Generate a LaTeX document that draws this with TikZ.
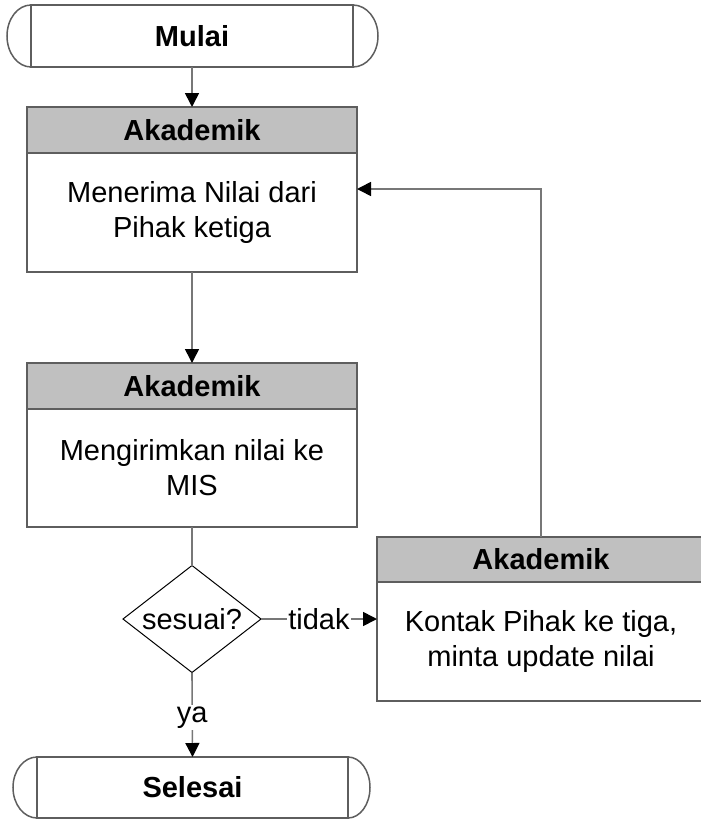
\documentclass[tikz,border=0pt]{standalone}
\usepackage{fontspec}
\setmainfont{Liberation Sans}
\usetikzlibrary{arrows.meta,shapes.geometric,calc}
\definecolor{hdr}{HTML}{C0C0C0}
\definecolor{bord}{HTML}{5E5E5E}
\definecolor{conncol}{HTML}{777777}
\begin{document}
\begin{tikzpicture}[x=1pt,y=-1pt,
  every node/.style={font=\fontsize{29}{35}\selectfont, inner sep=0pt, outer sep=0pt},
  head/.style={draw=bord, line width=1.5pt, fill=hdr, minimum width=330pt, minimum height=46pt, font=\fontsize{29}{35}\selectfont\bfseries},
  body/.style={draw=bord, line width=1.5pt, fill=white, minimum width=330pt, minimum height=119pt, align=center},
  conn/.style={draw=conncol, line width=1.6pt},
  arr/.style={conn, -{Triangle[length=14pt,width=14pt,color=black]}},
  lbl/.style={fill=white, inner sep=1.5pt},
  term/.style={draw=bord, line width=1.5pt, font=\fontsize{29}{35}\selectfont\bfseries}
]
\useasboundingbox (0,0) rectangle (701,819);
\clip (0,0) rectangle (701,819);

% start terminator
\node[term, minimum width=322pt, minimum height=62pt] (mulai) at (192,36) {Mulai};
\draw[term] (mulai.north west) arc[start angle=90, end angle=270, x radius=24pt, y radius=31pt];
\draw[term] (mulai.north east) arc[start angle=90, end angle=-90, x radius=25pt, y radius=31pt];

% box 1
\node[head] (h1) at (192,130) {Akademik};
\node[body, anchor=north] (b1) at (h1.south) {Menerima Nilai dari\\Pihak ketiga};

% box 2
\node[head] (h2) at (192,386) {Akademik};
\node[body, minimum height=118pt, anchor=north] (b2) at (h2.south) {Mengirimkan nilai ke\\MIS};

% box 3
\node[head, minimum width=328pt, minimum height=45pt] (h3) at (541,559.5) {Akademik};
\node[body, minimum width=328pt, anchor=north] (b3) at (h3.south) {Kontak Pihak ke tiga,\\minta update nilai};

% decision
\node[diamond, draw=black, line width=1pt, aspect=1.29, minimum width=138pt, minimum height=107pt] (dia) at (192,619) {sesuai?};

% end terminator
\node[term, minimum width=311pt, minimum height=61pt] (sel) at (192.5,787.5) {Selesai};
\draw[term] (sel.north west) arc[start angle=90, end angle=270, x radius=24pt, y radius=30.5pt];
\draw[term] (sel.north east) arc[start angle=90, end angle=-90, x radius=22pt, y radius=30.5pt];

% connectors
\draw[arr] (mulai.south) -- (h1.north);
\draw[arr] (b1.south) -- (h2.north);
\draw[conn] (b2.south) -- (dia.north);
\coordinate (tin) at (b3.west |- dia.east);
\draw[arr] (dia.east) -- node[lbl] {tidak} (tin);
\coordinate (ret) at (b1.east |- 0,189);
\draw[arr] (h3.north) |- (ret);
\draw[arr] (dia.south) -- node[lbl, pos=0.53] {ya} (sel.north);
\end{tikzpicture}
\end{document}
